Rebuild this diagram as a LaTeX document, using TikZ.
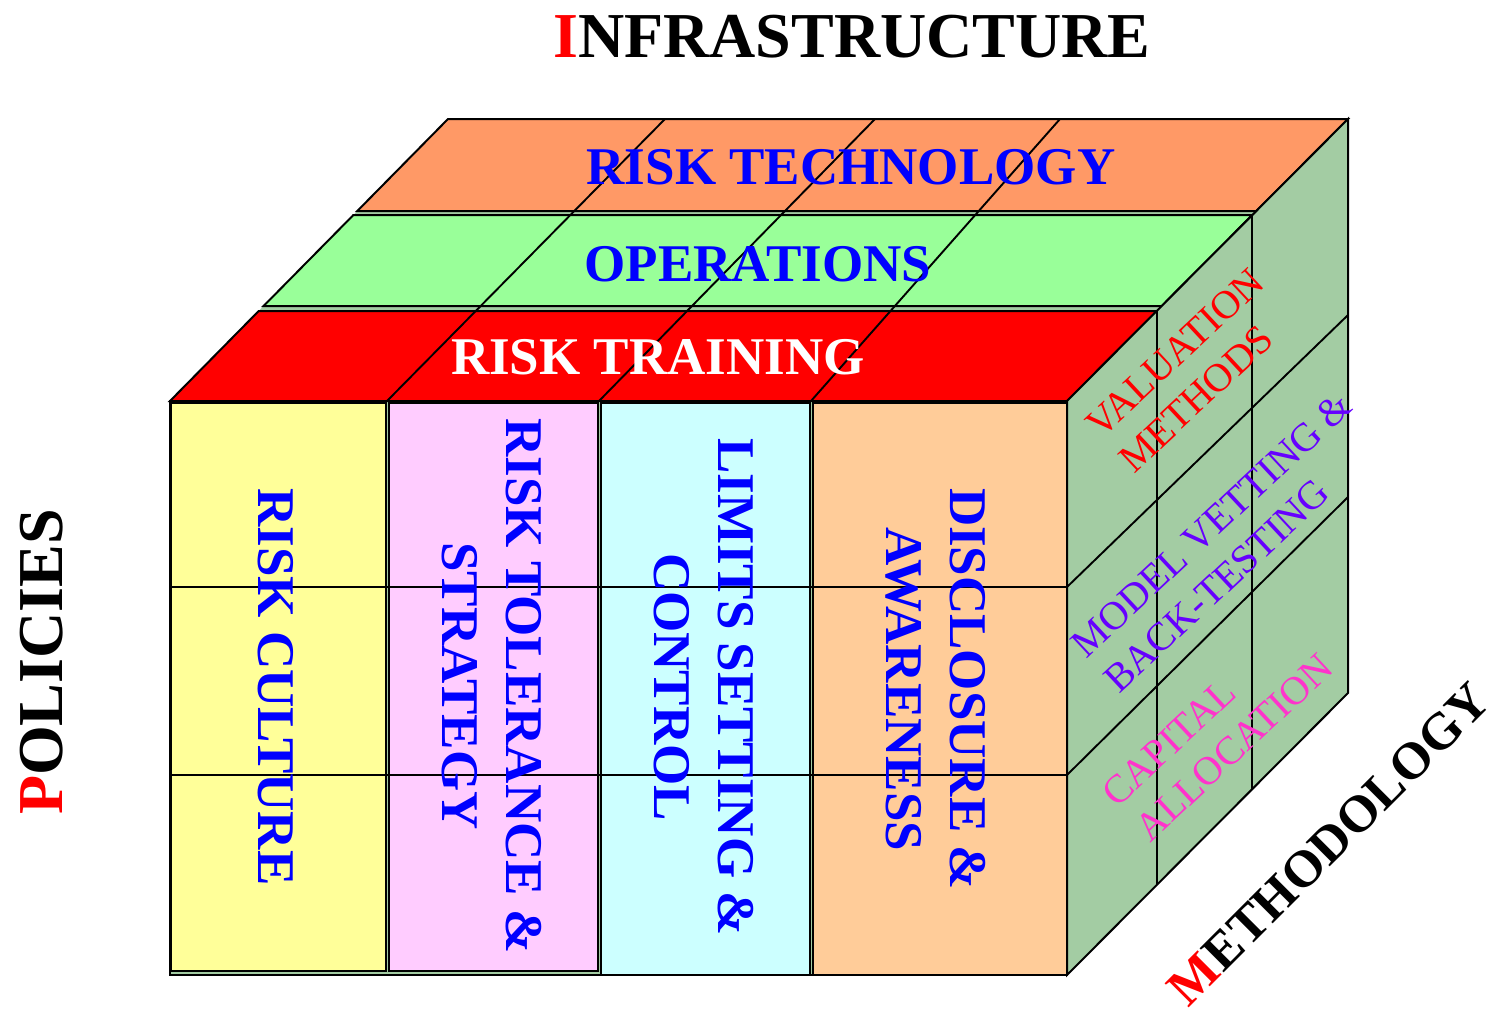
\documentclass[tikz,border=0pt]{standalone}
\usepackage{fontspec}
\setmainfont{Liberation Serif}
\definecolor{sidegreen}{HTML}{A3CCA3}
\definecolor{techorange}{HTML}{FF9966}
\definecolor{opsgreen}{HTML}{99FF99}
\definecolor{trainred}{HTML}{FF0000}
\definecolor{cultureyellow}{HTML}{FFFF99}
\definecolor{tolerancepink}{HTML}{FFCCFF}
\definecolor{limitscyan}{HTML}{CCFFFF}
\definecolor{disclosurepeach}{HTML}{FFCC99}
\definecolor{labelblue}{HTML}{0000FF}
\definecolor{valred}{HTML}{FF0000}
\definecolor{vetpurple}{HTML}{6600FF}
\definecolor{capmagenta}{HTML}{FF33CC}
\tikzset{
  edge/.style={draw=black, line width=2pt, line join=miter},
  gridline/.style={draw=black, line width=1.9pt},
  bandtxt/.style={inner sep=0pt, text=labelblue, font=\fontsize{53}{64}\selectfont\bfseries},
  coltxt/.style={inner sep=0pt, text=labelblue, rotate=-90, align=center, font=\fontsize{53}{64}\selectfont\bfseries},
  sidetxt/.style={inner sep=0pt, rotate=43, align=left, anchor=north west, font=\fontsize{40}{48}\selectfont},
  axistxt/.style={inner sep=0pt, text=black, font=\fontsize{64}{77}\selectfont\bfseries}
}
\begin{document}
\begin{tikzpicture}[x=1pt, y=-1pt]
\useasboundingbox (0,0) rectangle (1500,1017);

% front face backdrop
\fill[sidegreen] (170,401) rectangle (1067,975);
% top face backdrop (shows through the gaps between the slabs)
\fill[sidegreen] (170,401) -- (1067,401) -- (1348,119) -- (448,119) -- cycle;

% top slabs, front to back
\draw[edge, fill=trainred] (170,401) -- (1067,401) -- (1156.7,311) -- (258.7,311) -- cycle;
\draw[edge, fill=opsgreen] (263.6,306) -- (1161.7,306) -- (1252.3,215) -- (353.4,215) -- cycle;
\draw[edge, fill=techorange] (357.3,211) -- (1256.3,211) -- (1348,119) -- (448,119) -- cycle;

% right side face
\draw[edge, fill=sidegreen] (1067,401) -- (1348,119) -- (1348,693) -- (1067,975) -- cycle;
\draw[gridline] (1156.7,311) -- (1156.7,885);
\draw[gridline] (1252.3,215) -- (1252.3,789);
\draw[gridline] (1067,587) -- (1348,315);
\draw[gridline] (1067,775) -- (1348,497);

% front columns
\draw[edge, fill=cultureyellow] (171,403) rectangle (386,971);
\draw[edge, fill=tolerancepink] (389,403) rectangle (598,971);
\draw[edge, fill=limitscyan] (601,403) rectangle (810,975);
\draw[edge, fill=disclosurepeach] (813,403) rectangle (1067,975);
\draw[edge] (170,401) rectangle (1067,975);

% front grid
\draw[gridline] (170,587) -- (1067,587);
\draw[gridline] (170,775) -- (1067,775);

% top grid
\draw[gridline] (387,401) -- (665,119);
\draw[gridline] (599,401) -- (875,119);
\draw[gridline] (811,401) -- (1060,119);

% slab labels
\node[bandtxt] (tech) at (851,167) {RISK TECHNOLOGY};
\node[bandtxt] (ops) at (758,264) {OPERATIONS};
\node[bandtxt, text=white] (train) at (658,357) {RISK TRAINING};

% column labels
\node[coltxt] (culture) at (276,687) {RISK CULTURE};
\node[coltxt] (tolerance) at (492,686) {RISK TOLERANCE \&\\STRATEGY};
\node[coltxt] (limits) at (704,687) {LIMITS SETTING \&\\CONTROL};
\node[coltxt] (disclosure) at (936,689) {DISCLOSURE \&\\AWARENESS};

% side labels
\node[sidetxt, text=valred] (valuation) at (1083,420) {VALUATION\\METHODS};
\node[sidetxt, text=vetpurple] (vetting) at (1068,640) {MODEL VETTING \&\\BACK-TESTING};
\node[sidetxt, text=capmagenta] (capital) at (1099,789) {CAPITAL\\ALLOCATION};

% axis titles
\node[axistxt] (infra) at (852,37) {\textcolor{red}{I}NFRASTRUCTURE};
\node[axistxt, rotate=90] (policies) at (41.5,662) {\textcolor{red}{P}OLICIES};
\node[axistxt, rotate=45, font=\fontsize{52}{62}\selectfont\bfseries] (method) at (1329,844) {\textcolor{red}{M}ETHODOLOGY};
\end{tikzpicture}
\end{document}
